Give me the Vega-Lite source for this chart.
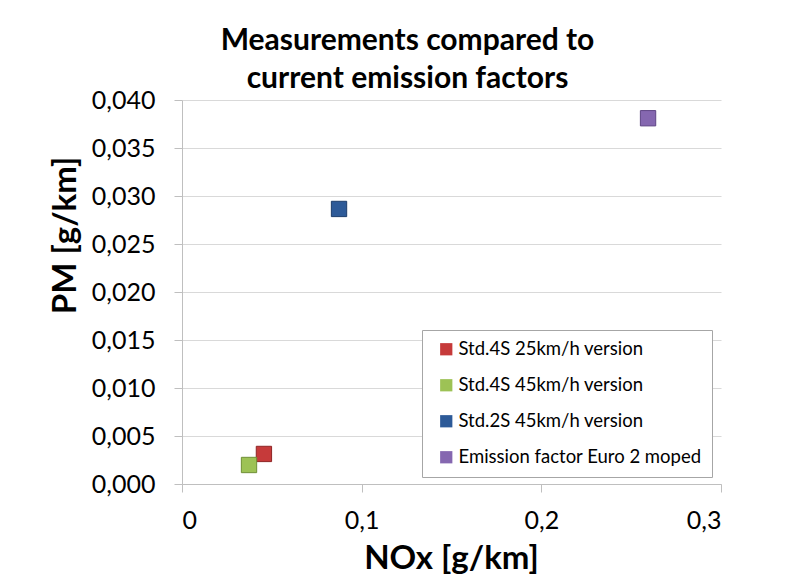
{
  "$schema": "https://vega.github.io/schema/vega-lite/v6.json",
  "width": 539,
  "height": 384,
  "autosize": {"type": "none"},
  "padding": {"left": 182, "top": 100, "right": 72, "bottom": 93},
  "background": "white",
  "title": {
    "text": ["Measurements compared to", "current emission factors"],
    "font": "Lato",
    "fontSize": 30,
    "fontWeight": "bold",
    "color": "#000000",
    "anchor": "middle",
    "dx": -44,
    "dy": 16,
    "lineHeight": 38,
    "offset": 10
  },
  "data": {
    "values": [
      {"series": "Std.4S 25km/h version", "nox": 0.0456, "pm": 0.00313},
      {"series": "Std.4S 45km/h version", "nox": 0.0373, "pm": 0.00198},
      {"series": "Std.2S 45km/h version", "nox": 0.0874, "pm": 0.02865},
      {"series": "Emission factor Euro 2 moped", "nox": 0.2594, "pm": 0.0381}
    ]
  },
  "mark": {"type": "point", "shape": "square", "filled": true, "size": 235, "strokeWidth": 1, "opacity": 1},
  "encoding": {
    "x": {
      "field": "nox",
      "type": "quantitative",
      "scale": {"domain": [0, 0.3], "nice": false, "zero": true},
      "axis": {
        "title": "NOx [g/km]",
        "values": [0, 0.1, 0.2, 0.3],
        "grid": false,
        "labelExpr": "datum.value == 0 ? '0' : replace(format(datum.value, '.1f'), '.', ',')",
        "titleX": 269,
        "titleY": 84,
        "titleBaseline": "alphabetic",
        "labelPadding": 16
      }
    },
    "y": {
      "field": "pm",
      "type": "quantitative",
      "scale": {"domain": [0, 0.04], "nice": false},
      "axis": {
        "title": "PM [g/km]",
        "values": [0, 0.005, 0.01, 0.015, 0.02, 0.025, 0.03, 0.035, 0.04],
        "grid": true,
        "labelExpr": "replace(format(datum.value, '.3f'), '.', ',')",
        "titleX": -117,
        "titleY": 135,
        "titleAngle": -90,
        "titleAlign": "center",
        "titleBaseline": "middle",
        "labelPadding": 19
      }
    },
    "fill": {
      "field": "series",
      "type": "nominal",
      "scale": {
        "domain": ["Std.4S 25km/h version", "Std.4S 45km/h version", "Std.2S 45km/h version", "Emission factor Euro 2 moped"],
        "range": ["#C63A3A", "#9DC255", "#2D5A98", "#8567B0"]
      },
      "legend": {
        "title": null,
        "orient": "none",
        "legendX": 240,
        "legendY": 230,
        "padding": 10,
        "symbolOffset": 5,
        "rowPadding": 17,
        "strokeColor": "#A6A6A6",
        "fillColor": "white",
        "symbolType": "square",
        "symbolSize": 150,
        "symbolStrokeWidth": 0,
        "labelFont": "Lato",
        "labelFontSize": 18.5,
        "labelColor": "#000000",
        "labelOffset": 3,
        "labelLimit": 400
      }
    },
    "stroke": {
      "field": "series",
      "type": "nominal",
      "scale": {
        "domain": ["Std.4S 25km/h version", "Std.4S 45km/h version", "Std.2S 45km/h version", "Emission factor Euro 2 moped"],
        "range": ["#8E2424", "#6F8F36", "#1C3D6B", "#5E4585"]
      },
      "legend": null
    }
  },
  "config": {
    "view": {"stroke": null},
    "axisX": {"grid": false},
    "axis": {
      "labelFont": "Lato",
      "labelFontSize": 25,
      "labelColor": "#000000",
      "titleFont": "Lato",
      "titleFontSize": 33,
      "titleFontWeight": "bold",
      "titleColor": "#000000",
      "domainColor": "#BFBFBF",
      "tickColor": "#BFBFBF",
      "gridColor": "#D9D9D9",
      "tickSize": 8,
      "domainWidth": 1,
      "gridWidth": 1
    }
  }
}
